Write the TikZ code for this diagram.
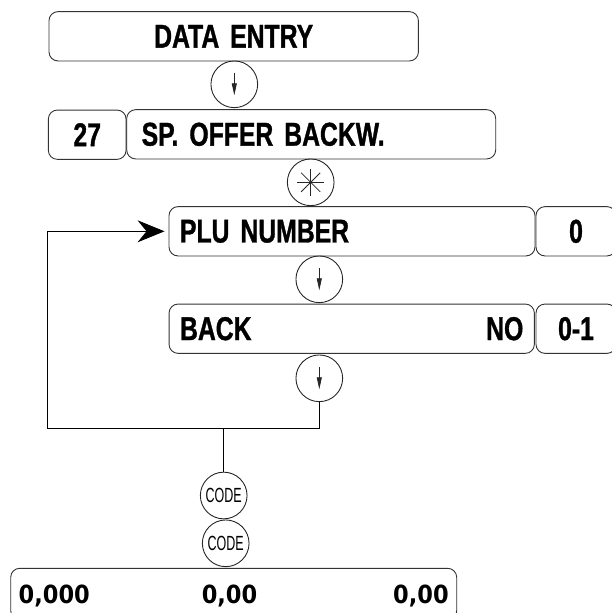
\documentclass[tikz,border=0pt]{standalone}
\usepackage{fontspec}
\setmainfont{Liberation Sans}
\newfontfamily\panelfont[FakeStretch=0.75,FakeBold=1]{Liberation Sans}
\newfontfamily\keyfont[FakeStretch=0.61]{Liberation Sans}
\newfontfamily\sumfont[FakeStretch=0.9]{DejaVu Sans}
\usetikzlibrary{arrows.meta}

\begin{document}
\begin{tikzpicture}[x=1pt, y=-1pt,
    field/.style={draw=black!80, line width=0.9pt, rounded corners=9pt, minimum height=49.3pt, inner xsep=11pt, align=center,
        font=\panelfont\bfseries\fontsize{33}{36}\selectfont},
    key/.style={circle, draw=black!85, line width=0.9pt, minimum size=46.7pt, inner sep=0pt,
        font=\keyfont\fontsize{20.5}{22}\selectfont},
    down/.style={key, path picture={\draw[line width=0.8pt, -{Triangle[length=12pt,width=5pt]}]
        ([yshift=11pt]path picture bounding box.center) -- ([yshift=-11pt]path picture bounding box.center);}},
    star/.style={key, path picture={\foreach \a in {0,45,90,135}
        \draw[line width=0.8pt] (path picture bounding box.center) ++(\a:13.5pt) -- ++(\a+180:27pt);}},
    wire/.style={line width=0.9pt},
    back arrow/.style={wire, -{Stealth[length=27pt,width=22pt,inset=9pt]}, shorten >=4pt}
]
    \useasboundingbox (0,0) rectangle (612,613);
    \clip (0,0) rectangle (612,613);

    \node[field, text width=347.4pt] (entry) at (233.7,36.3) {DATA ENTRY};
    \node[down] (k1) at (234.3,84.3) {};
    \node[field, minimum width=77.7pt] (num) at (87.2,134.7) {27};
    \node[field, inner xsep=15pt, text width=339pt, align=left] (offer) at (311.2,134.3) {SP. OFFER BACKW.};
    \node[star] (k2) at (310.7,182.3) {};
    \node[field, text width=344pt, align=left] (plu) at (352,231.3) {PLU NUMBER};
    \node[field, minimum width=80pt] (pluval) at (576,231.3) {0};
    \node[down] (k3) at (319.3,279.3) {};
    \node[field, text width=343.3pt, align=left] (back) at (351.7,328.7) {BACK\hfill NO\hspace*{4pt}};
    \node[field, minimum width=80pt] (backval) at (576,328.7) {0-1};
    \node[down] (k4) at (319.3,378.3) {};
    \node[key] (code1) at (223.7,495.5) {CODE};
    \node[key] (code2) at (225.7,543.3) {CODE};
    \node[field, inner xsep=8pt, text width=430pt, align=left, minimum height=51.4pt, text depth=0pt,
        font=\sumfont\bfseries\fontsize{25}{28}\selectfont] (sum) at (233.7,594)
        {0,000\hfill 0,00\hspace*{24pt}\hfill 0,00\hspace*{16pt}};

    \coordinate (bend) at (47.7,428.3);
    \draw[back arrow] (k4.south) |- (bend) |- (plu.west);
    \draw[wire] (code1 |- bend) -- (code1.north);
\end{tikzpicture}
\end{document}
